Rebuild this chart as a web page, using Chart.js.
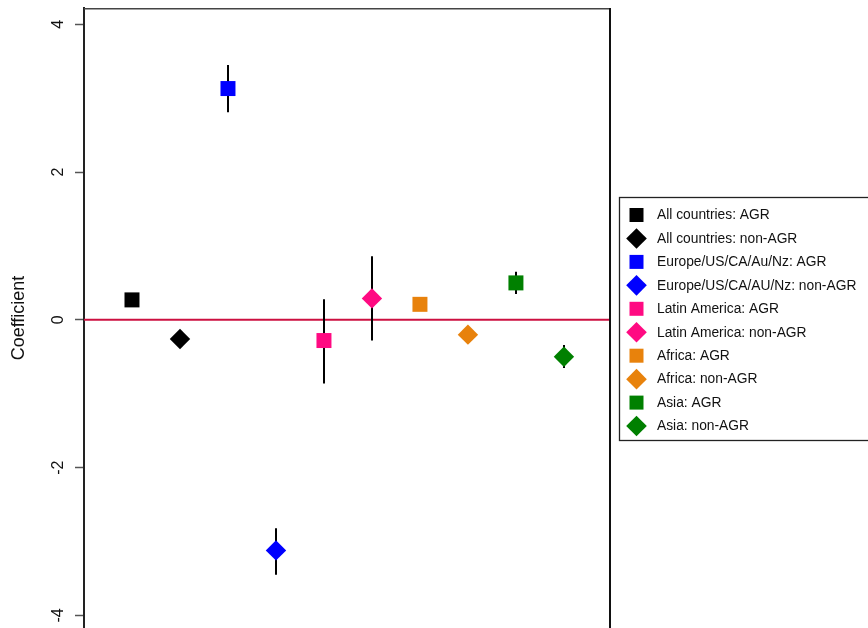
<!DOCTYPE html>
<html>
<head>
<meta charset="utf-8">
<script src="https://cdn.jsdelivr.net/npm/chart.js@4/dist/chart.umd.min.js"></script>
<style>
  html, body { margin: 0; padding: 0; background: #fff; }
  #wrap { width: 868px; height: 628px; }
</style>
</head>
<body>
<div id="wrap"><canvas id="c" width="868" height="628"></canvas></div>
<script>
// Coefficients with 95% intervals, by region and sector
const seriesLabels = [
  'All countries: AGR',
  'All countries: non-AGR',
  'Europe/US/CA/Au/Nz: AGR',
  'Europe/US/CA/AU/Nz: non-AGR',
  'Latin America: AGR',
  'Latin America: non-AGR',
  'Africa: AGR',
  'Africa: non-AGR',
  'Asia: AGR',
  'Asia: non-AGR'
];
const positions = [1, 2, 3, 4, 5, 6, 7, 8, 9, 10];
const coef   = [0.27, -0.26, 3.13, -3.12, -0.28, 0.29, 0.21, -0.20, 0.50, -0.50];
const ciLow  = [null, null, 2.81, -3.45, -0.86, -0.28, null, null, 0.35, -0.65];
const ciHigh = [null, null, 3.45, -2.82, 0.28, 0.86, null, null, 0.65, -0.34];
const seriesColors = ['#000000', '#000000', '#0000FF', '#0000FF', '#FF0A82', '#FF0A82',
                      '#E8820C', '#E8820C', '#008000', '#008000'];
const seriesShapes = ['rect', 'rectRot', 'rect', 'rectRot', 'rect', 'rectRot',
                      'rect', 'rectRot', 'rect', 'rectRot'];
const yTicks = [-4, -2, 0, 2, 4];
const yTitle = 'Coefficient';

const FONT = '"Liberation Sans", Arial, Helvetica, sans-serif';

const datasets = seriesLabels.map((label, i) => ({
  label,
  data: [{ x: positions[i], y: coef[i] }],
  pointStyle: seriesShapes[i],
  pointRadius: seriesShapes[i] === 'rect' ? 10.6 : 10.2,
  pointBackgroundColor: seriesColors[i],
  pointBorderColor: seriesColors[i],
  pointBorderWidth: 0,
  showLine: false
}));

// zero reference line and confidence intervals, behind the markers
const underlay = {
  id: 'underlay',
  beforeDatasetsDraw(chart) {
    const { ctx, chartArea: a, scales: { x, y } } = chart;
    ctx.save();
    const y0 = y.getPixelForValue(0);
    ctx.strokeStyle = '#CC1040';
    ctx.lineWidth = 2;
    ctx.beginPath();
    ctx.moveTo(a.left, y0);
    ctx.lineTo(a.right, y0);
    ctx.stroke();
    ctx.strokeStyle = '#000';
    ctx.lineWidth = 2;
    positions.forEach((p, i) => {
      if (ciLow[i] == null || ciHigh[i] == null) return;
      const px = Math.round(x.getPixelForValue(p));
      ctx.beginPath();
      ctx.moveTo(px, y.getPixelForValue(ciHigh[i]));
      ctx.lineTo(px, y.getPixelForValue(ciLow[i]));
      ctx.stroke();
    });
    ctx.restore();
  }
};

// plot frame, rotated tick labels and the boxed legend
const overlay = {
  id: 'overlay',
  afterDraw(chart) {
    const { ctx, chartArea: a, scales: { y } } = chart;
    ctx.save();
    // top and right sides of the frame
    ctx.strokeStyle = '#444';
    ctx.lineWidth = 1.5;
    ctx.beginPath();
    ctx.moveTo(a.left, a.top + 0.75);
    ctx.lineTo(a.right, a.top + 0.75);
    ctx.stroke();
    ctx.strokeStyle = '#111';
    ctx.lineWidth = 2;
    ctx.beginPath();
    ctx.moveTo(a.right, a.top);
    ctx.lineTo(a.right, chart.height);
    ctx.stroke();

    // y tick labels, rotated to read bottom-to-top
    ctx.fillStyle = '#111';
    ctx.font = '16px ' + FONT;
    ctx.textAlign = 'center';
    ctx.textBaseline = 'middle';
    y.ticks.forEach(t => {
      const py = y.getPixelForValue(t.value);
      ctx.save();
      ctx.translate(59, py);
      ctx.rotate(-Math.PI / 2);
      ctx.fillText(String(t.value), 0, 0);
      ctx.restore();
    });

    // legend
    const boxL = 619.5, boxT = 197.5, boxB = 440.5;
    ctx.strokeStyle = '#222';
    ctx.lineWidth = 1.3;
    ctx.strokeRect(boxL, boxT, chart.width + 10 - boxL, boxB - boxT);
    ctx.font = '13.8px ' + FONT;
    ctx.textAlign = 'left';
    ctx.textBaseline = 'middle';
    seriesLabels.forEach((label, i) => {
      const cy = 215 + i * 23.45;
      const cx = 636.5;
      ctx.fillStyle = seriesColors[i];
      ctx.beginPath();
      if (seriesShapes[i] === 'rect') {
        ctx.rect(cx - 7, cy - 7, 14, 14);
      } else {
        const r = 10.3;
        ctx.moveTo(cx - r, cy);
        ctx.lineTo(cx, cy - r);
        ctx.lineTo(cx + r, cy);
        ctx.lineTo(cx, cy + r);
        ctx.closePath();
      }
      ctx.fill();
      ctx.fillStyle = '#111';
      ctx.fillText(label, 657, cy + 0.5);
    });
    ctx.restore();
  }
};

new Chart(document.getElementById('c'), {
  type: 'scatter',
  data: { datasets },
  plugins: [underlay, overlay],
  options: {
    responsive: false,
    animation: false,
    events: [],
    layout: { autoPadding: false, padding: { top: 8, right: 258, bottom: 0, left: 0 } },
    plugins: {
      legend: { display: false },
      tooltip: { enabled: false }
    },
    scales: {
      x: {
        type: 'linear',
        min: 0,
        max: 10.96,
        display: false
      },
      y: {
        type: 'linear',
        position: 'left',
        min: -4.17,
        max: 4.22,
        afterBuildTicks: s => { s.ticks = yTicks.map(v => ({ value: v })); },
        afterFit: s => { s.width = 84; },
        ticks: { display: false },
        grid: {
          drawOnChartArea: false,
          drawTicks: true,
          tickLength: 9,
          tickWidth: 1.5,
          tickColor: '#555'
        },
        border: { display: true, color: '#222', width: 2 },
        title: {
          display: true,
          text: yTitle,
          color: '#111',
          font: { family: FONT, size: 18 },
          padding: { top: 8, bottom: 0 }
        }
      }
    }
  }
});
</script>
</body>
</html>
